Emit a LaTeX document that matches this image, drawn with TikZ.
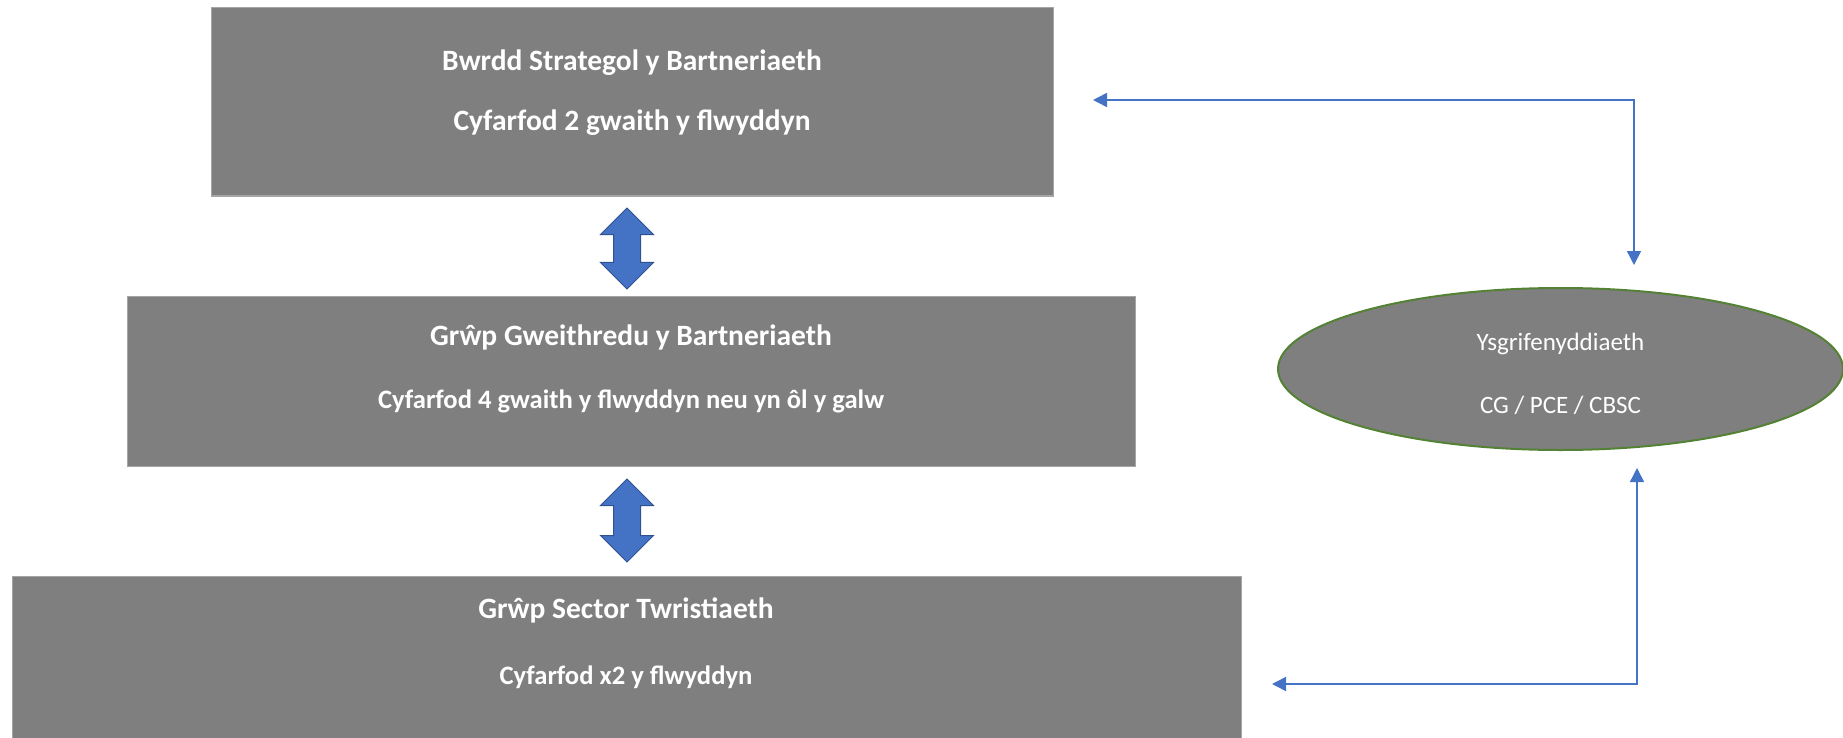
\documentclass[tikz,border=0pt]{standalone}
\usepackage{fontspec}
\setmainfont{Carlito}
\usepackage{tikz}
\usetikzlibrary{arrows.meta,positioning,calc,shapes.geometric,shapes.arrows}
\definecolor{boxgray}{HTML}{7F7F7F}
\definecolor{edgegray}{HTML}{A5A5A5}
\definecolor{linkblue}{HTML}{4472C4}
\definecolor{fatedge}{HTML}{2F528F}
\definecolor{ovalgreen}{HTML}{548235}

\begin{document}
\begin{tikzpicture}[x=1pt,y=-1pt,>={Triangle[length=14pt,width=14pt]},
  box/.style={draw=edgegray,line width=1pt,fill=boxgray,minimum height=#1},
  title/.style={text=white,font=\fontsize{29.5}{34}\selectfont\bfseries},
  small/.style={text=white,font=\fontsize{26.6}{31}\selectfont\bfseries},
  ovaltext/.style={text=white,font=\fontsize{25}{30}\selectfont},
  link/.style={<->,draw=linkblue,line width=1.5pt},
  fat/.style={double arrow,rotate=90,fill=linkblue,draw=fatedge,line width=1pt,
    inner sep=13pt,minimum width=52pt,minimum height=#1,double arrow head extend=13pt}]
  \useasboundingbox (0,0) rectangle (1843,738);

  % Boxes (top to bottom)
  \node[box=188pt,minimum width=842pt]  (b1) at (632,102) {};
  \node[box=170pt,minimum width=1008pt] (b2) at (631,381) {};
  \node[box=180pt,minimum width=1229pt] (b3) at (626.5,666) {};

  % Box texts
  \node[title] (b1a) at (632,63)  {Bwrdd Strategol y Bartneriaeth};
  \node[title] (b1b) at (632,123) {Cyfarfod 2 gwaith y flwyddyn};
  \node[title] (b2a) at (631,337) {Grŵp Gweithredu y Bartneriaeth};
  \node[small] (b2b) at (631,401) {Cyfarfod 4 gwaith y flwyddyn neu yn ôl y galw};
  \node[title] (b3a) at (626,610) {Grŵp Sector Twristiaeth};
  \node[small] (b3b) at (626,677) {Cyfarfod x2 y flwyddyn};

  % Secretariat
  \node[ellipse,draw=ovalgreen,line width=2pt,fill=boxgray,minimum width=565pt,
    minimum height=162pt] (sec) at (1560.5,369) {};
  \node[ovaltext] (seca) at ($(sec)+(0,-25)$) {Ysgrifenyddiaeth};
  \node[ovaltext] (secb) at ($(sec)+(0,36)$)  {CG / PCE / CBSC};

  % Block arrows between boxes
  \node[fat=81pt] (f1) at (627,248.5) {};
  \node[fat=83pt] (f2) at (627,520.5) {};

  % Elbow links to the secretariat
  \coordinate (t1) at (1093,100);
  \coordinate (t2) at (1634,265);
  \draw[link] (t1) -| (t2);
  \coordinate (u1) at (1272,684);
  \coordinate (u2) at (1637,468);
  \draw[link] (u1) -| (u2);
\end{tikzpicture}
\end{document}
